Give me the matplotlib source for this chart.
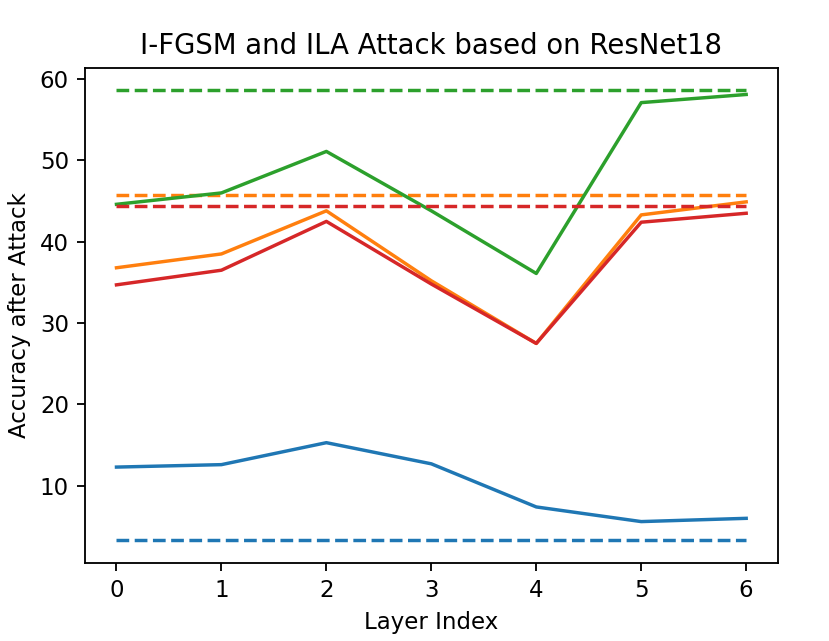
import matplotlib
matplotlib.use('Agg')
import matplotlib.pyplot as plt

layers = [0, 1, 2, 3, 4, 5, 6]
# ILA results per layer (solid), I-FGSM baseline (dashed)
ila_blue = [12.3, 12.6, 15.3, 12.7, 7.4, 5.6, 6.0]
ila_orange = [36.8, 38.5, 43.8, 35.2, 27.5, 43.3, 44.9]
ila_green = [44.6, 46.0, 51.1, 43.8, 36.1, 57.1, 58.1]
ila_red = [34.7, 36.5, 42.5, 34.8, 27.5, 42.4, 43.5]
fgsm_blue = 3.3
fgsm_orange = 45.8
fgsm_green = 58.6
fgsm_red = 44.4

fig = plt.figure(figsize=(5.03, 3.885), dpi=165)
ax = fig.add_axes([0.1024, 0.122, 0.8346, 0.772])

solids = [ila_blue, ila_orange, ila_green, ila_red]
dashes = [fgsm_blue, fgsm_orange, fgsm_green, fgsm_red]
cols = ['C0', 'C1', 'C2', 'C3']
for s, d, c in zip(solids, dashes, cols):
    ax.plot(layers, s, color=c)
    ax.plot(layers, [d] * len(layers), '--', color=c)

ax.set_title('I-FGSM and ILA Attack based on ResNet18')
ax.set_xlabel('Layer Index')
ax.set_ylabel('Accuracy after Attack')
fig.savefig('out.png')
